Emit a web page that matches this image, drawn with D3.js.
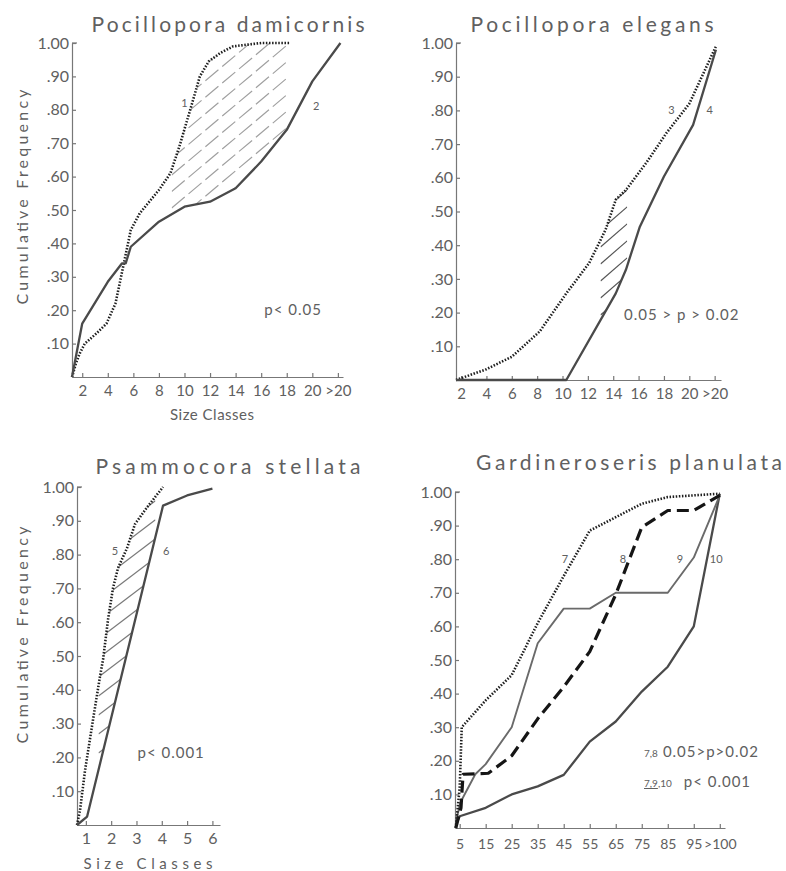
<!DOCTYPE html>
<html>
<head>
<meta charset="utf-8">
<title>Cumulative size-frequency curves</title>
<script src="https://d3js.org/d3.v7.min.js"></script>
<style>
  body { margin: 0; background: #fff; }
  svg text { font-family: "Lato", "DejaVu Sans", sans-serif; fill: #606060; }
</style>
</head>
<body>
<script>
var W = 786, H = 871;

// shared y ticks
var yTicks = [0.1, 0.2, 0.3, 0.4, 0.5, 0.6, 0.7, 0.8, 0.9, 1.0];
var yTickLabels = [".10", ".20", ".30", ".40", ".50", ".60", ".70", ".80", ".90", "1.00"];

// Pocillopora damicornis, curves 1 (dotted) and 2 (solid)
var damTicks = [2, 4, 6, 8, 10, 12, 14, 16, 18, 20, 22];
var damTickLabels = ["2", "4", "6", "8", "10", "12", "14", "16", "18", "20", ">20"];
var damCurve1 = [[1.2,0],[1.5,0.04],[1.8,0.07],[2.2,0.1],[3.1,0.13],[3.9,0.16],[4.6,0.22],[5.2,0.33],[5.8,0.44],[6.5,0.49],[8,0.56],[8.9,0.61],[9.6,0.69],[10.6,0.82],[11.2,0.9],[11.9,0.945],[12.8,0.97],[13.8,0.99],[16,1.0],[18.2,1.0]];
var damCurve2 = [[1.2,0],[2,0.16],[4,0.285],[5.1,0.34],[5.4,0.34],[5.8,0.39],[8,0.465],[10,0.51],[12,0.525],[14,0.565],[16,0.645],[18,0.74],[20,0.885],[22.2,1.0]];

// Pocillopora elegans, curves 3 (dotted) and 4 (solid)
var eleTicks = [2, 4, 6, 8, 10, 12, 14, 16, 18, 20, 22];
var eleTickLabels = ["2", "4", "6", "8", "10", "12", "14", "16", "18", "20", ">20"];
var eleCurve3 = [[1.6,0],[4,0.032],[6,0.069],[8.2,0.144],[10.3,0.257],[12.1,0.347],[13.4,0.446],[14.2,0.535],[15,0.564],[16.6,0.644],[18.2,0.733],[20,0.82],[22.1,0.99]];
var eleCurve4 = [[1.6,0],[10.3,0],[14.2,0.257],[15,0.327],[16.1,0.455],[18,0.604],[20.3,0.757],[22.1,0.98]];

// Psammocora stellata, curves 5 (dotted) and 6 (solid)
var psaTicks = [1, 2, 3, 4, 5, 6];
var psaTickLabels = ["1", "2", "3", "4", "5", "6"];
var psaCurve5 = [[0.65,0],[0.77,0.044],[0.97,0.163],[1.28,0.31],[1.56,0.44],[1.68,0.49],[1.88,0.61],[2.07,0.7],[2.27,0.76],[2.63,0.82],[2.94,0.89],[3.42,0.94],[4.05,1.0]];
var psaCurve6 = [[0.65,0],[1.05,0.025],[4.05,0.945],[5,0.975],[6,0.995]];

// Gardineroseris planulata, curves 7 (dotted), 8 (dashed), 9 and 10 (solid)
var garTicks = [5, 15, 25, 35, 45, 55, 65, 75, 85, 95, 105];
var garTickLabels = ["5", "15", "25", "35", "45", "55", "65", "75", "85", "95", ">100"];
var garCurve7 = [[3.5,0],[5,0.12],[5.8,0.3],[15,0.38],[25,0.455],[35,0.61],[45,0.75],[55,0.885],[65,0.925],[75,0.965],[85,0.985],[95,0.99],[105,0.995]];
var garCurve8 = [[3.5,0],[5.5,0.06],[6.3,0.16],[16,0.163],[25,0.215],[35,0.325],[45,0.42],[55,0.525],[65,0.695],[75,0.895],[85,0.945],[95,0.945],[105,0.99]];
var garCurve9 = [[3.5,0.02],[4.5,0.05],[5.2,0.075],[11,0.16],[15,0.19],[25,0.3],[35,0.55],[45,0.653],[55,0.653],[65,0.7],[85,0.7],[95,0.805],[105,0.99]];
var garCurve10 = [[3.5,0.01],[5,0.035],[15,0.06],[25,0.1],[35,0.124],[45,0.158],[55,0.257],[65,0.317],[75,0.406],[85,0.48],[95,0.6],[105,0.995]];

var styles = {
  dot:   {stroke: "#1e1e1e", width: 2.6, dash: "1.5,1.6"},
  dash:  {stroke: "#151515", width: 3.2, dash: "12,6"},
  solid: {stroke: "#4a4a4a", width: 2.3, dash: null},
  thin:  {stroke: "#6a6a6a", width: 1.9, dash: null}
};

var panels = [
  {id: "p1", title: "Pocillopora damicornis", titleX: 228, titleY: 32, titleLen: 273,
   x0: 72, x1: 343, yBottom: 377, yTop: 43, xDomain: [1.2, 22.4], xPad: 8, xFont: 15,
   xTicks: damTicks, xLabels: damTickLabels,
   lines: [[damCurve1, "dot"], [damCurve2, "solid"]],
   hatch: {upper: damCurve1, lower: damCurve2, from: 9.0, to: 18.1, slope: -0.84, gap: 16.5, dash: "17,5", color: "#a0a0a0"},
   nums: [["1", 10.0, 0.82], ["2", 20.3, 0.81]],
   notes: [["p< 0.05", 18.5, 0.2]],
   yTitle: [22, 197, 215], xTitle: [212, 420, 84]},
  {id: "p2", title: "Pocillopora elegans", titleX: 592, titleY: 32, titleLen: 243,
   x0: 456, x1: 721, yBottom: 380, yTop: 43, xDomain: [1.6, 22.5], xPad: 8, xFont: 15,
   xTicks: eleTicks, xLabels: eleTickLabels,
   lines: [[eleCurve3, "dot"], [eleCurve4, "solid"]],
   hatch: {upper: eleCurve3, lower: eleCurve4, from: 13.0, to: 15.1, slope: -0.87, gap: 17, dash: null, color: "#555"},
   nums: [["3", 18.6, 0.8], ["4", 21.6, 0.8]],
   notes: [["0.05 > p > 0.02", 19.4, 0.195]]},
  {id: "p3", title: "Psammocora stellata", titleX: 228, titleY: 474, titleLen: 265,
   x0: 77, x1: 220, yBottom: 825, yTop: 487, xDomain: [0.65, 6.3], xPad: 8, xFont: 16,
   xTicks: psaTicks, xLabels: psaTickLabels,
   lines: [[psaCurve5, "dot"], [psaCurve6, "solid"]],
   hatch: {upper: psaCurve5, lower: psaCurve6, from: 1.5, to: 3.75, slope: -0.76, gap: 19, dash: null, color: "#7a7a7a"},
   nums: [["5", 2.15, 0.81], ["6", 4.17, 0.81]],
   notes: [["p< 0.001", 4.37, 0.215]],
   yTitle: [22, 635, 217], xTitle: [148, 869, 129]},
  {id: "p4", title: "Gardineroseris planulata", titleX: 629, titleY: 470, titleLen: 306,
   x0: 455, x1: 725, yBottom: 828, yTop: 492, xDomain: [3.2, 107], xPad: 11, xFont: 14,
   xTicks: garTicks, xLabels: garTickLabels,
   lines: [[garCurve10, "solid"], [garCurve9, "thin"], [garCurve8, "dash"], [garCurve7, "dot"]],
   hatch: null,
   nums: [["7", 45.5, 0.8], ["8", 67.8, 0.8], ["9", 89.7, 0.8], ["10", 103.6, 0.8]],
   notes: []}
];

var svg = d3.select("body").append("svg").attr("width", W).attr("height", H);
var defs = svg.append("defs");

panels.forEach(function(p) {
  var x = d3.scaleLinear().domain(p.xDomain).range([p.x0, p.x1]);
  var y = d3.scaleLinear().domain([0, 1]).range([p.yBottom, p.yTop]);
  var g = svg.append("g");

  g.append("text").attr("x", p.titleX).attr("y", p.titleY)
    .attr("text-anchor", "middle").attr("font-size", 21)
    .attr("textLength", p.titleLen).attr("lengthAdjust", "spacing")
    .text(p.title);

  // axes
  var ya = d3.axisLeft(y).tickValues(yTicks)
    .tickFormat(function(d, i) { return yTickLabels[i]; })
    .tickSizeInner(-4).tickSizeOuter(0).tickPadding(3);
  var yg = g.append("g").attr("transform", "translate(" + p.x0 + ",0)").call(ya);
  yg.append("line").attr("x1", 0).attr("x2", 5).attr("y1", p.yTop).attr("y2", p.yTop);

  var xa = d3.axisBottom(x).tickValues(p.xTicks)
    .tickFormat(function(d, i) { return p.xLabels[i]; })
    .tickSizeInner(-4).tickSizeOuter(0).tickPadding(p.xPad);
  var xg = g.append("g").attr("transform", "translate(0," + p.yBottom + ")").call(xa);

  [yg, xg].forEach(function(a) {
    a.selectAll("path, line").attr("stroke", "#777").attr("stroke-width", 1.2);
    a.selectAll("text").attr("fill", "#606060")
      .style("font-family", "Lato, 'DejaVu Sans', sans-serif");
  });
  yg.selectAll("text").attr("font-size", 16);
  xg.selectAll("text").attr("font-size", p.xFont);

  if (p.yTitle) {
    g.append("text").attr("transform", "translate(" + p.yTitle[0] + "," + p.yTitle[1] + ") rotate(-90)")
      .attr("text-anchor", "middle").attr("dy", "0.35em").attr("font-size", 16)
      .attr("textLength", p.yTitle[2]).attr("lengthAdjust", "spacing")
      .text("Cumulative  Frequency");
  }
  if (p.xTitle) {
    g.append("text").attr("x", p.xTitle[0]).attr("y", p.xTitle[1])
      .attr("text-anchor", "middle").attr("font-size", 15)
      .attr("textLength", p.xTitle[2]).attr("lengthAdjust", "spacing")
      .text("Size Classes");
  }

  // hatching between the two curves
  if (p.hatch) {
    var h = p.hatch;
    var poly = h.upper.map(function(d) { return [x(d[0]), y(d[1])]; })
      .concat(h.lower.slice().reverse().map(function(d) { return [x(d[0]), y(d[1])]; }));
    defs.append("clipPath").attr("id", p.id + "-band")
      .append("path").attr("d", "M" + poly.join("L") + "Z");
    defs.append("clipPath").attr("id", p.id + "-range")
      .append("rect").attr("x", x(h.from)).attr("width", x(h.to) - x(h.from))
      .attr("y", p.yTop - 10).attr("height", p.yBottom - p.yTop + 20);
    var hg = g.append("g").attr("clip-path", "url(#" + p.id + "-range)")
      .append("g").attr("clip-path", "url(#" + p.id + "-band)");
    var xl = x(h.from), xr = x(h.to);
    var rise = h.slope * (xr - xl);
    var starts = d3.range(p.yTop, p.yBottom - rise, h.gap);
    hg.selectAll("line").data(starts).join("line")
      .attr("x1", xl).attr("x2", xr)
      .attr("y1", function(b) { return b; })
      .attr("y2", function(b) { return b + rise; })
      .attr("stroke", h.color).attr("stroke-width", 1.2)
      .attr("stroke-dasharray", h.dash);
  }

  var line = d3.line().x(function(d) { return x(d[0]); }).y(function(d) { return y(d[1]); });
  p.lines.forEach(function(l) {
    var s = styles[l[1]];
    g.append("path").datum(l[0]).attr("d", line)
      .attr("fill", "none").attr("stroke", s.stroke).attr("stroke-width", s.width)
      .attr("stroke-dasharray", s.dash).attr("stroke-linejoin", "round");
  });

  p.nums.forEach(function(n) {
    g.append("text").attr("x", x(n[1])).attr("y", y(n[2])).attr("dy", "0.35em")
      .attr("text-anchor", "middle").attr("font-size", 11).text(n[0]);
  });
  p.notes.forEach(function(n) {
    g.append("text").attr("x", x(n[1])).attr("y", y(n[2])).attr("dy", "0.35em")
      .attr("text-anchor", "middle").attr("font-size", 15).attr("letter-spacing", 1).text(n[0]);
  });

  if (p.id === "p4") {
    var t1 = g.append("text").attr("x", 644).attr("y", 757).attr("font-size", 15);
    t1.append("tspan").attr("font-size", 10).text("7,8");
    t1.append("tspan").attr("dx", 5).attr("letter-spacing", 1).text("0.05>p>0.02");
    var t2 = g.append("text").attr("x", 644).attr("y", 787).attr("font-size", 15);
    t2.append("tspan").attr("font-size", 10).attr("text-decoration", "underline").text("7,9");
    t2.append("tspan").attr("font-size", 10).text(",10");
    t2.append("tspan").attr("dx", 12).attr("letter-spacing", 1).text("p< 0.001");
  }
});
</script>
</body>
</html>
